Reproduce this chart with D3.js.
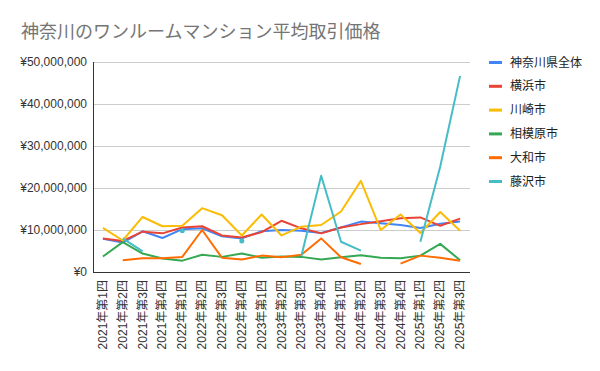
<!DOCTYPE html>
<html>
<head>
<meta charset="utf-8">
<script src="https://cdn.jsdelivr.net/npm/d3@7"></script>
<style>
	body { margin: 0; background: #fff; }
	text { font-family: "Liberation Sans", Arial, "Noto Sans CJK JP", sans-serif; }
</style>
</head>
<body>
<div class="thegraph"></div>
<script>
var quarters = ["2021年第1四", "2021年第2四", "2021年第3四", "2021年第4四",
                "2022年第1四", "2022年第2四", "2022年第3四", "2022年第4四",
                "2023年第1四", "2023年第2四", "2023年第3四", "2023年第4四",
                "2024年第1四", "2024年第2四", "2024年第3四", "2024年第4四",
                "2025年第1四", "2025年第2四", "2025年第3四"];

// values in yen (null = no data)
var kanagawa = [7900000, 7000000, 9700000, 8100000, 10200000, 10400000, 8500000, 8000000, 9700000, 10000000,
                9800000, 9300000, 10600000, 12000000, 11600000, 11200000, 10500000, 11500000, 12000000];
var yokohama = [8000000, 7400000, 9600000, 9200000, 10600000, 10900000, 8700000, 8200000, 9500000, 12200000,
                10400000, 9200000, 10600000, 11400000, 12100000, 12800000, 13000000, 11000000, 12700000];
var kawasaki = [10500000, 7500000, 13100000, 10900000, 11000000, 15200000, 13500000, 8700000, 13700000, 8700000,
                10800000, 11200000, 14400000, 21700000, 10000000, 13700000, 9300000, 14300000, 9800000];
var sagamihara = [3700000, 7100000, 4400000, 3200000, 2700000, 4100000, 3600000, 4400000, 3400000, 3700000,
                  3600000, 3000000, 3500000, 4000000, 3400000, 3300000, 3900000, 6700000, 2800000];
var yamato = [null, 2800000, 3300000, 3300000, 3600000, 10000000, 3400000, 3000000, 3900000, 3500000,
              4100000, 8000000, 3500000, 1900000, null, 2000000, 3900000, 3400000, 2700000];
var fujisawa = [null, 8000000, 4900000, null, 9800000, null, null, 7400000, null, null,
                3800000, 22900000, 7200000, 5100000, null, null, 7200000, 25100000, 46700000];

var seriesNames = ["神奈川県全体", "横浜市", "川崎市", "相模原市", "大和市", "藤沢市"];
var seriesColors = ["#4285f4", "#ea4335", "#fbbc04", "#34a853", "#ff6d01", "#46bdc6"];
var yTicks = [0, 10000000, 20000000, 30000000, 40000000, 50000000];

(function() {
	var w = 600;
	var h = 371;
	var left = 93, right = 470, top = 62, bottom = 272;

	var svg = d3.select(".thegraph").append("svg")
		.attr("width", w)
		.attr("height", h)
		;

	var x = d3.scaleBand().domain(quarters).range([left, right]);
	var y = d3.scaleLinear().domain([0, 50000000]).range([bottom, top]);
	var cx = function(i) { return x(quarters[i]) + x.bandwidth() / 2; };

	// title
	svg.append("text")
		.text("神奈川のワンルームマンション平均取引価格")
		.attr("x", 21)
		.attr("y", 38)
		.attr("font-size", "18px")
		.style("font-family", "Roboto, 'Noto Sans CJK JP', sans-serif")
		.attr("fill", "#757575")
		;

	// gridlines + y labels
	var yAxis = svg.append("g")
		.attr("transform", "translate(" + left + ",0)")
		.call(d3.axisLeft(y)
			.tickValues(yTicks)
			.tickSize(-(right - left))
			.tickPadding(6)
			.tickFormat(function(d) { return "¥" + d3.format(",")(d); }))
		;
	yAxis.select(".domain").remove();
	yAxis.selectAll("line").attr("stroke", "#cccccc");
	yAxis.selectAll("text")
		.attr("font-size", "12px")
		.attr("fill", "#333")
		.style("font-family", "'Liberation Sans', Arial, sans-serif")
		;

	// x labels
	var xAxis = svg.append("g")
		.attr("transform", "translate(0," + bottom + ")")
		.call(d3.axisBottom(x).tickSize(0).tickPadding(0))
		;
	xAxis.select(".domain").remove();
	xAxis.selectAll("text")
		.attr("font-size", "12px")
		.attr("fill", "#333")
		.attr("text-anchor", "end")
		.attr("dy", null)
		.attr("y", 0)
		.attr("dominant-baseline", "central")
		.attr("transform", "translate(0,8) rotate(-90)")
		;

	// axis lines
	svg.append("line")
		.attr("x1", left + 0.5).attr("x2", left + 0.5)
		.attr("y1", top).attr("y2", bottom)
		.attr("stroke", "#333");
	svg.append("line")
		.attr("x1", left).attr("x2", right)
		.attr("y1", bottom + 0.5).attr("y2", bottom + 0.5)
		.attr("stroke", "#333");

	// series lines
	var allSeries = [kanagawa, yokohama, kawasaki, sagamihara, yamato, fujisawa];
	var line = d3.line()
		.defined(function(d) { return d != null; })
		.x(function(d, i) { return cx(i); })
		.y(function(d) { return y(d); })
		;

	allSeries.forEach(function(vals, k) {
		svg.append("path")
			.datum(vals)
			.attr("d", line)
			.attr("fill", "none")
			.attr("stroke", seriesColors[k])
			.attr("stroke-width", 2)
			.attr("stroke-linejoin", "round")
			;
		// isolated points (no neighbour to join)
		vals.forEach(function(d, i) {
			var prev = i > 0 ? vals[i - 1] : null;
			var next = i < vals.length - 1 ? vals[i + 1] : null;
			if (d != null && prev == null && next == null) {
				svg.append("circle")
					.attr("cx", cx(i))
					.attr("cy", y(d))
					.attr("r", 2.5)
					.attr("fill", seriesColors[k]);
			}
		});
	});

	// legend
	var legend = svg.selectAll("g.legend")
		.data(seriesNames)
		.enter()
		.append("g")
		.attr("class", "legend")
		.attr("transform", function(d, i) { return "translate(489," + (62.5 + i * 23.8) + ")"; })
		;
	legend.append("rect")
		.attr("x", 0).attr("y", -1.5)
		.attr("width", 13).attr("height", 3)
		.attr("fill", function(d, i) { return seriesColors[i]; });
	legend.append("text")
		.text(function(d) { return d; })
		.attr("x", 21)
		.attr("y", 0)
		.attr("dominant-baseline", "central")
		.attr("font-size", "12px")
		.attr("fill", "#222")
		;
})();
</script>
</body>
</html>
